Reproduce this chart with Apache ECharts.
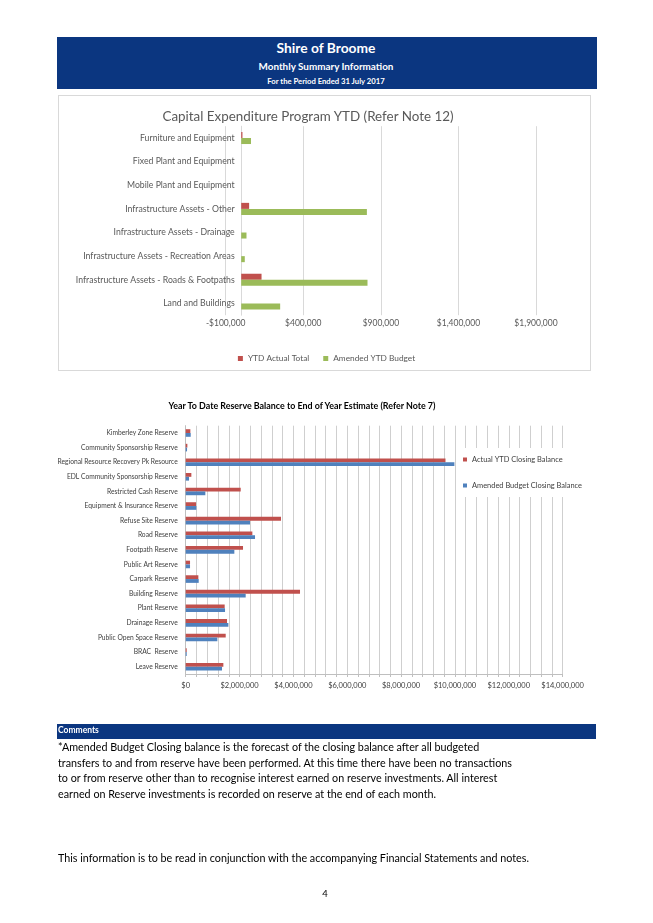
<!DOCTYPE html>
<html>
<head>
<meta charset="utf-8">
<script src="https://cdn.jsdelivr.net/npm/echarts@6/dist/echarts.min.js"></script>
<style>
  html, body { margin: 0; padding: 0; background: #fff; }
  body { width: 653px; height: 923px; position: relative; overflow: hidden; font-family: Lato, "Open Sans", sans-serif; }
  #chart { position: absolute; left: 0; top: 0; width: 653px; height: 923px; }
  .abs { position: absolute; white-space: nowrap; }
  .c { transform: translate(-50%, -50%); }
  .band { position: absolute; background: #0b3680; }
  .box { position: absolute; border: 1px solid #d9d9d9; }
</style>
</head>
<body>
<div class="box" style="left:58px;top:95px;width:531px;height:274px;"></div>
<div id="chart"></div>

<div class="band" style="left:57px;top:37px;width:540px;height:52px;"></div>
<div class="abs c" style="left:326px;top:47px;color:#fff;font-weight:bold;font-size:13.8px;">Shire of Broome</div>
<div class="abs c" style="left:326px;top:66px;color:#fff;font-weight:bold;font-size:9.9px;">Monthly Summary Information</div>
<div class="abs c" style="left:326px;top:81px;color:#fff;font-weight:bold;font-size:7.7px;">For the Period Ended 31 July 2017</div>

<div class="abs c" style="left:308px;top:116px;color:#595959;font-size:13.4px;">Capital Expenditure Program YTD (Refer Note 12)</div>
<div class="abs c" style="left:302px;top:405px;color:#000;font-weight:bold;font-size:8.9px;">Year To Date Reserve Balance to End of Year Estimate (Refer Note 7)</div>

<div class="band" style="left:57px;top:724px;width:539px;height:15px;"></div>
<div class="abs" style="left:58px;top:725px;color:#fff;font-weight:bold;font-size:8.5px;">Comments</div>
<div class="abs" style="left:58px;top:739px;color:#000;font-size:10.75px;line-height:15.7px;">
*Amended Budget Closing balance is the forecast of the closing balance after all budgeted<br>
transfers to and from reserve have been performed. At this time there have been no transactions<br>
to or from reserve other than to recognise interest earned on reserve investments. All interest<br>
earned on Reserve investments is recorded on reserve at the end of each month.
</div>
<div class="abs" style="left:58px;top:851px;color:#000;font-size:10.75px;">This information is to be read in conjunction with the accompanying Financial Statements and notes.</div>
<div class="abs c" style="left:325px;top:893px;color:#000;font-size:9.5px;">4</div>

<script>
// ---- Capital Expenditure Program YTD ----
var capCategories = [
  'Furniture and Equipment',
  'Fixed Plant and Equipment',
  'Mobile Plant and Equipment',
  'Infrastructure Assets - Other',
  'Infrastructure Assets - Drainage',
  'Infrastructure Assets - Recreation Areas',
  'Infrastructure Assets - Roads & Footpaths',
  'Land and Buildings'
];
var capActual = [8000, 0, 0, 51000, 0, 0, 131000, 0];
var capBudget = [63000, 0, 0, 810000, 34000, 23000, 814000, 251000];
var capAxisMin = -100000, capAxisMax = 1900000, capAxisStep = 500000;

// ---- Reserve balances ----
var resCategories = [
  'Kimberley Zone Reserve',
  'Community Sponsorship Reserve',
  'Regional Resource Recovery Pk Resource',
  'EDL Community Sponsorship Reserve',
  'Restricted Cash Reserve',
  'Equipment & Insurance Reserve',
  'Refuse Site Reserve',
  'Road Reserve',
  'Footpath Reserve',
  'Public Art Reserve',
  'Carpark Reserve',
  'Building Reserve',
  'Plant Reserve',
  'Drainage Reserve',
  'Public Open Space Reserve',
  'BRAC  Reserve',
  'Leave Reserve'
];
var resActual = [173000, 62000, 9650000, 210000, 2043000, 384000, 3540000, 2476000, 2129000, 161000, 470000, 4246000, 1448000, 1535000, 1486000, 37000, 1399000];
var resBudget = [186000, 50000, 9980000, 124000, 730000, 396000, 2389000, 2575000, 1807000, 161000, 483000, 2228000, 1461000, 1585000, 1176000, 37000, 1349000];
var resAxisMin = 0, resAxisMax = 14000000, resAxisStep = 2000000;

function money(v) {
  var s = '$' + Math.abs(v).toLocaleString('en-US');
  return v < 0 ? '-' + s : s;
}

var FONT = 'Lato, "Open Sans", sans-serif';
var chart = echarts.init(document.getElementById('chart'), null, { renderer: 'canvas' });
chart.setOption({
  animation: false,
  textStyle: { fontFamily: FONT },
  grid: [
    { left: 225.7, top: 126.2, width: 310.3, height: 189 },
    { left: 185.7, top: 425.7, width: 376.9, height: 248.3 }
  ],
  legend: [
    {
      data: ['YTD Actual Total', 'Amended YTD Budget'],
      left: 'center', top: 349.5,
      itemWidth: 5, itemHeight: 5, itemGap: 14,
      icon: 'rect',
      textStyle: { fontSize: 8.3, color: '#595959', fontFamily: FONT }
    },
    {
      data: ['Actual YTD Closing Balance', 'Amended Budget Closing Balance'],
      orient: 'vertical', left: 457, top: 448,
      padding: [8, 14, 8, 6],
      backgroundColor: '#fff',
      itemWidth: 4, itemHeight: 4, itemGap: 19,
      icon: 'rect',
      textStyle: { fontSize: 7.45, color: '#404040', fontFamily: FONT }
    }
  ],
  xAxis: [
    {
      gridIndex: 0, type: 'value',
      min: capAxisMin, max: capAxisMax, interval: capAxisStep,
      axisLine: { show: false }, axisTick: { show: false },
      splitLine: { show: true, lineStyle: { color: '#d9d9d9', width: 1 } },
      axisLabel: { formatter: money, fontSize: 8.5, color: '#595959', margin: 4, fontFamily: FONT }
    },
    {
      gridIndex: 1, type: 'value',
      min: resAxisMin, max: resAxisMax, interval: resAxisStep,
      axisLine: { show: true, lineStyle: { color: '#bfbfbf' } },
      axisTick: { show: true, length: 3, lineStyle: { color: '#bfbfbf' } },
      minorTick: { show: true, splitNumber: 5, length: 3, lineStyle: { color: '#bfbfbf' } },
      splitLine: { show: true, lineStyle: { color: '#cfcfcf', width: 1 } },
      minorSplitLine: { show: true, lineStyle: { color: '#cfcfcf', width: 1 } },
      axisLabel: { formatter: money, fontSize: 7.5, color: '#404040', margin: 8, fontFamily: FONT }
    }
  ],
  yAxis: [
    {
      gridIndex: 0, type: 'category', data: capCategories, inverse: true,
      axisLine: { show: true, onZero: true, lineStyle: { color: '#d9d9d9' } },
      axisTick: { show: false },
      axisLabel: { interval: 0, fontSize: 8.7, color: '#595959', margin: -9, fontFamily: FONT }
    },
    {
      gridIndex: 1, type: 'category', data: resCategories, inverse: true,
      axisLine: { show: true, onZero: true, lineStyle: { color: '#bfbfbf' } },
      axisTick: { show: false },
      axisLabel: { interval: 0, fontSize: 6.7, color: '#404040', margin: 8, fontFamily: FONT }
    }
  ],
  series: [
    {
      name: 'YTD Actual Total', type: 'bar', xAxisIndex: 0, yAxisIndex: 0,
      data: capActual, itemStyle: { color: '#c0504d' },
      barGap: '0%', barCategoryGap: '49%'
    },
    {
      name: 'Amended YTD Budget', type: 'bar', xAxisIndex: 0, yAxisIndex: 0,
      data: capBudget, itemStyle: { color: '#9bbb59' },
      barGap: '0%', barCategoryGap: '49%'
    },
    {
      name: 'Actual YTD Closing Balance', type: 'bar', xAxisIndex: 1, yAxisIndex: 1,
      data: resActual, itemStyle: { color: '#c0504d' },
      barGap: '0%', barCategoryGap: '48%'
    },
    {
      name: 'Amended Budget Closing Balance', type: 'bar', xAxisIndex: 1, yAxisIndex: 1,
      data: resBudget, itemStyle: { color: '#4f81bd' },
      barGap: '0%', barCategoryGap: '48%'
    }
  ]
});
</script>
</body>
</html>
